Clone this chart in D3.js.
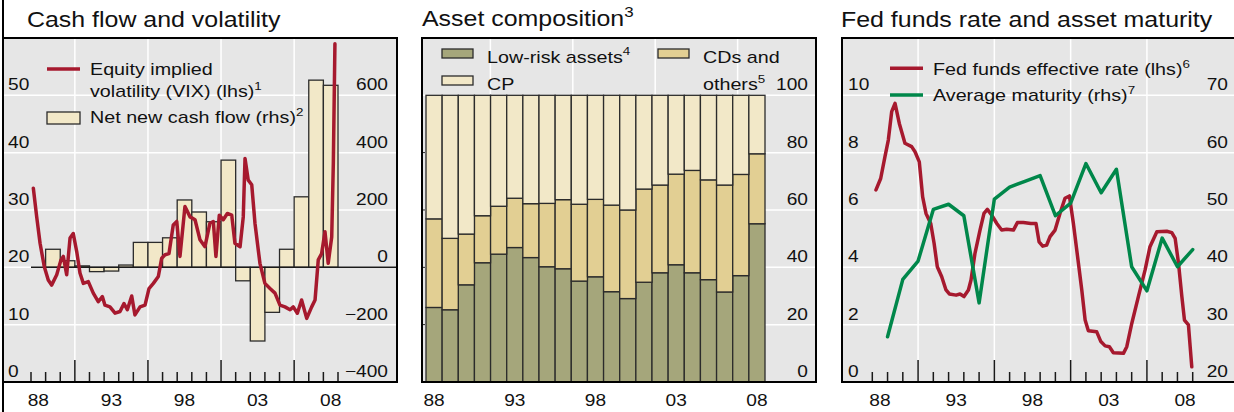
<!DOCTYPE html>
<html>
<head>
<meta charset="utf-8">
<script src="https://cdn.jsdelivr.net/npm/d3@7"></script>
<style>
  body { margin: 0; background: #fff; }
  svg { display: block; }
  text { font-family: Arial, "Liberation Sans", sans-serif; fill: #111; }
</style>
</head>
<body>
<svg id="chart" width="1234" height="412"></svg>
<script>
// ---- data ----
// left panel: net new cash flow (USD bn, rhs) and VIX (lhs)
var flowYears = d3.range(1989, 2009);
var netFlow = [63, 23, 5, -15, -13, 8, 87, 87, 103, 235, 193, 159, 374, -47, -257, -157, 63, 246, 653, 635];

var vixDate = [1988.16, 1988.39, 1988.62, 1988.91, 1989.18, 1989.41, 1989.76, 1990.05, 1990.21, 1990.44,
  1990.67, 1990.89, 1991.13, 1991.35, 1991.58, 1991.92, 1992.26, 1992.6, 1992.88, 1993.06,
  1993.4, 1993.75, 1994.09, 1994.36, 1994.59, 1994.89, 1995.11, 1995.46, 1995.8, 1996.07,
  1996.37, 1996.71, 1996.94, 1997.17, 1997.44, 1997.73, 1997.97, 1998.19, 1998.53, 1998.88,
  1999.22, 1999.56, 1999.9, 2000.24, 2000.47, 2000.65, 2000.88, 2001.15, 2001.43, 2001.73,
  2001.95, 2002.3, 2002.52, 2002.64, 2002.86, 2003.1, 2003.32, 2003.66, 2004.0, 2004.35,
  2004.69, 2005.03, 2005.37, 2005.72, 2005.94, 2006.22, 2006.51, 2006.86, 2007.2, 2007.43,
  2007.65, 2007.88, 2008.11, 2008.33, 2008.57, 2008.68, 2008.79];
var vixVal = [33.8, 28.8, 24.2, 20.1, 17.8, 16.9, 18.7, 21.3, 21.9, 18.7,
  25.1, 25.9, 22.7, 19.0, 17.2, 17.5, 15.5, 14.0, 14.9, 13.4,
  13.1, 12.0, 12.3, 13.7, 12.6, 15.0, 11.7, 13.1, 13.4, 16.3,
  17.2, 18.4, 21.6, 22.2, 22.4, 27.4, 28.0, 21.9, 30.6, 28.8,
  28.3, 24.8, 23.6, 27.7, 28.0, 21.9, 29.1, 28.3, 29.4, 29.1,
  24.2, 23.6, 28.8, 39.0, 35.2, 34.4, 27.7, 20.7, 17.2, 16.3,
  15.5, 13.4, 13.1, 12.6, 13.1, 12.0, 14.3, 11.1, 13.1, 14.3,
  21.3, 22.4, 26.2, 20.7, 25.3, 38.1, 59.0];

// middle panel: asset composition, per cent
var assetYears = d3.range(1988, 2009);
var lowRisk = [26, 25.2, 33.9, 41.6, 44.6, 46.9, 43.4, 40.2, 39.5, 35.2, 36.7, 31.5, 29.1, 34.8, 38.1, 40.9, 38.1, 35.7, 31.4, 37.1, 55.2];
var cdsOther = [30.9, 24.9, 17.7, 16.4, 16.7, 17.2, 18.8, 22.1, 24.1, 26.8, 27, 30.2, 30.9, 32.5, 30.6, 31.6, 35.7, 34.8, 37.3, 35.3, 24.4];
var cpShare = [43.1, 49.9, 48.4, 42, 38.7, 35.9, 37.8, 37.7, 36.4, 38, 36.3, 38.3, 40, 32.7, 31.3, 27.5, 26.2, 29.5, 31.3, 27.6, 20.4];

// right panel: fed funds rate (lhs) and average maturity in days (rhs)
var ffDate = [1988.24, 1988.55, 1988.83, 1989.05, 1989.27, 1989.49, 1989.77, 1990.14, 1990.58, 1990.8,
  1991.08, 1991.3, 1991.52, 1991.83, 1992.05, 1992.26, 1992.55, 1992.83, 1993.05, 1993.49,
  1993.75, 1994.01, 1994.3, 1994.47, 1994.73, 1995.06, 1995.32, 1995.54, 1995.83, 1996.16,
  1996.48, 1996.81, 1997.25, 1997.51, 1997.9, 1998.39, 1998.73, 1998.93, 1999.17, 1999.43,
  1999.65, 1999.98, 2000.3, 2000.63, 2000.92, 2001.18, 2001.51, 2001.73, 2001.95, 2002.16,
  2002.71, 2002.98, 2003.26, 2003.54, 2003.8, 2004.46, 2004.68, 2005.01, 2005.44, 2005.88,
  2006.2, 2006.65, 2007.3, 2007.63, 2007.85, 2008.07, 2008.29, 2008.46, 2008.72, 2008.94];
var ffRate = [6.70, 7.1, 7.86, 8.44, 9.43, 9.72, 9.02, 8.33, 8.21, 8.03,
  7.68, 6.46, 5.88, 5.53, 4.84, 4.02, 3.67, 3.21, 3.07, 3.03,
  3.07, 2.98, 3.21, 3.56, 4.49, 5.30, 5.88, 6.02, 5.82, 5.53,
  5.30, 5.33, 5.30, 5.56, 5.56, 5.53, 5.53, 4.89, 4.74, 4.78,
  5.07, 5.30, 5.88, 6.41, 6.49, 5.53, 4.14, 3.21, 2.16, 1.79,
  1.75, 1.41, 1.26, 1.23, 1.02, 1.0, 1.23, 2.05, 2.98, 3.91,
  4.72, 5.24, 5.26, 5.21, 5.01, 4.14, 2.98, 2.16, 1.99, 0.53];
// year-end observations
var maturityDate = d3.range(1989, 2010);
var maturityDays = [27.9, 37.9, 41.1, 50.1, 51, 49, 33.8, 51.9, 54, 55, 56, 49, 51.2, 58.1, 53, 57.1, 40.1, 35.9, 45.1, 40.1, 43.1];

var yearLabels = [1988, 1993, 1998, 2003, 2008];
var majorYears = [1991, 1996, 2001, 2006];

// ---- drawing ----
var svg = d3.select("#chart");
var SX = 1.16;  // glyphs in the original are wider than Arial
var red = "#a6192e", green = "#00874a", bg = "#e6e6e6";

function label(g, x, y, main, sup, anchor, size) {
  size = size || 16.5;
  var t = g.append("text")
      .attr("transform", "translate(" + x + "," + y + ") scale(" + SX + ",1)")
      .attr("text-anchor", anchor || "start")
      .style("font-size", size + "px");
  t.append("tspan").text(main);
  if (sup) t.append("tspan").attr("dy", -size * 0.42).style("font-size", (size * 0.68) + "px").text(sup);
  return t;
}
function fmt(v) { return v < 0 ? "\u2212" + (-v) : String(v); }

function hgrid(g, vals, y, x0, x1) {
  g.selectAll(null).data(vals).enter().append("line")
      .attr("x1", x0).attr("x2", x1)
      .attr("y1", y).attr("y2", y)
      .attr("stroke", "#fff").attr("stroke-width", 1.5);
}
function vgrid(g, vals, x, y0, y1) {
  g.selectAll(null).data(vals).enter().append("line")
      .attr("x1", x).attr("x2", x)
      .attr("y1", y0).attr("y2", y1)
      .attr("stroke", "#fff").attr("stroke-width", 1.5);
}
function yearTicks(g, x, bottom) {
  g.selectAll(null).data(d3.range(1988, 2010)).enter().append("line")
      .attr("x1", x).attr("x2", x)
      .attr("y1", bottom)
      .attr("y2", function(d) { return majorYears.indexOf(d) >= 0 ? bottom - 22 : bottom - 10; })
      .attr("stroke", "#1a1a1a").attr("stroke-width", 1.5);
  yearLabels.forEach(function(yr) {
    label(g, x(yr + 0.5), 406, String(yr).slice(2), null, "middle");
  });
}

// ===== panel 1: cash flow and volatility =====
var g1 = svg.append("g");
var b1 = {left: 3, right: 397, top: 38, bottom: 382};
var x1 = d3.scaleLinear().domain([1988, 2009]).range([31, 338]);
var y1 = d3.scaleLinear().domain([0, 60]).range([b1.bottom, b1.top]);
var y1r = d3.scaleLinear().domain([-400, 800]).range([b1.bottom, b1.top]);

g1.append("rect").attr("x", b1.left).attr("y", b1.top)
    .attr("width", b1.right - b1.left).attr("height", b1.bottom - b1.top).attr("fill", bg);
hgrid(g1, [10, 20, 30, 40, 50], function(d) { return y1(d); }, b1.left, b1.right);
vgrid(g1, majorYears, function(d) { return x1(d); }, b1.top, b1.bottom);

g1.selectAll(".flow").data(d3.zip(flowYears, netFlow)).enter().append("rect")
    .attr("class", "flow")
    .attr("x", function(d) { return x1(d[0]); })
    .attr("width", function(d) { return x1(d[0] + 1) - x1(d[0]); })
    .attr("y", function(d) { return y1r(Math.max(0, d[1])); })
    .attr("height", function(d) { return Math.abs(y1r(d[1]) - y1r(0)); })
    .attr("fill", "#f2e8c8").attr("stroke", "#2b2b2b").attr("stroke-width", 1.3);

g1.append("line").attr("x1", x1(1988)).attr("x2", b1.right)
    .attr("y1", y1r(0)).attr("y2", y1r(0)).attr("stroke", "#1a1a1a").attr("stroke-width", 1.5);

var vixLine = d3.line().x(function(d) { return x1(d[0]); }).y(function(d) { return y1(d[1]); });
g1.append("path").datum(d3.zip(vixDate, vixVal))
    .attr("fill", "none").attr("stroke", red).attr("stroke-width", 3.5)
    .attr("stroke-linejoin", "round").attr("stroke-linecap", "round")
    .attr("d", vixLine);

yearTicks(g1, x1, b1.bottom);

g1.append("rect").attr("x", b1.left).attr("y", b1.top)
    .attr("width", b1.right - b1.left).attr("height", b1.bottom - b1.top)
    .attr("fill", "none").attr("stroke", "#000").attr("stroke-width", 2);
g1.append("line").attr("x1", b1.left).attr("x2", b1.left).attr("y1", 0).attr("y2", 412)
    .attr("stroke", "#000").attr("stroke-width", 2);

[0, 10, 20, 30, 40, 50].forEach(function(v) { label(g1, 8, y1(v) - 5, fmt(v)); });
[-400, -200, 0, 200, 400, 600].forEach(function(v) { label(g1, 388, y1r(v) - 5, fmt(v), null, "end"); });

label(g1, 27, 27, "Cash flow and volatility", null, "start", 21.5);
g1.append("line").attr("x1", 47).attr("x2", 80).attr("y1", 69).attr("y2", 69)
    .attr("stroke", red).attr("stroke-width", 3.5);
label(g1, 90, 75, "Equity implied", null, "start", 17);
label(g1, 90, 97, "volatility (VIX) (lhs)", "1", "start", 17);
g1.append("rect").attr("x", 47).attr("y", 112).attr("width", 33).attr("height", 12)
    .attr("fill", "#f2e8c8").attr("stroke", "#2b2b2b").attr("stroke-width", 1.3);
label(g1, 90, 123, "Net new cash flow (rhs)", "2", "start", 17);

// ===== panel 2: asset composition =====
var g2 = svg.append("g");
var b2 = {left: 422, right: 816, top: 38, bottom: 382};
var xb = d3.scaleBand().domain(assetYears).range([426, 765]);
var y2 = d3.scaleLinear().domain([0, 100]).range([b2.bottom, 95.3]);
var gridX = d3.scaleLinear().domain([0, 5]).range([408, 820]);

g2.append("rect").attr("x", b2.left).attr("y", b2.top)
    .attr("width", b2.right - b2.left).attr("height", b2.bottom - b2.top).attr("fill", bg);
hgrid(g2, [20, 40, 60, 80, 100], function(d) { return y2(d); }, b2.left, b2.right);
vgrid(g2, [1, 2, 3, 4], function(d) { return gridX(d); }, b2.top, b2.bottom);

var assetRows = assetYears.map(function(yr, i) {
  return {year: yr, low: lowRisk[i], cds: cdsOther[i], cp: cpShare[i]};
});
var keys = ["low", "cds", "cp"];
var fills = {low: "#a5a67b", cds: "#e2cf93", cp: "#f2e8c8"};
var stacked = d3.stack().keys(keys)(assetRows);

g2.selectAll(".layer").data(stacked).enter().append("g")
    .attr("fill", function(d) { return fills[d.key]; })
  .selectAll("rect").data(function(d) { return d; }).enter().append("rect")
    .attr("x", function(d) { return xb(d.data.year); })
    .attr("width", xb.bandwidth())
    .attr("y", function(d) { return y2(d[1]); })
    .attr("height", function(d) { return y2(d[0]) - y2(d[1]); })
    .attr("stroke", "#2b2b2b").attr("stroke-width", 1.3);

g2.selectAll(".ltick").data([20, 40, 60, 80]).enter().append("line")
    .attr("x1", b2.left).attr("x2", b2.left + 3)
    .attr("y1", function(d) { return y2(d); }).attr("y2", function(d) { return y2(d); })
    .attr("stroke", "#1a1a1a").attr("stroke-width", 1);

g2.append("rect").attr("x", b2.left).attr("y", b2.top)
    .attr("width", b2.right - b2.left).attr("height", b2.bottom - b2.top)
    .attr("fill", "none").attr("stroke", "#000").attr("stroke-width", 2);

[0, 20, 40, 60, 80, 100].forEach(function(v) { label(g2, 808, y2(v) - 5, fmt(v), null, "end"); });
yearLabels.forEach(function(yr) {
  label(g2, xb(yr) + xb.bandwidth() / 2, 406, String(yr).slice(2), null, "middle");
});

label(g2, 422, 26, "Asset composition", "3", "start", 21.5);
g2.append("rect").attr("x", 442).attr("y", 49).attr("width", 31).attr("height", 9)
    .attr("fill", fills.low).attr("stroke", "#2b2b2b").attr("stroke-width", 1.3);
label(g2, 487, 62.5, "Low-risk assets", "4", "start", 17);
g2.append("rect").attr("x", 658).attr("y", 49).attr("width", 31).attr("height", 9)
    .attr("fill", fills.cds).attr("stroke", "#2b2b2b").attr("stroke-width", 1.3);
label(g2, 703, 62.5, "CDs and", null, "start", 17);
label(g2, 703, 90, "others", "5", "start", 17);
g2.append("rect").attr("x", 442).attr("y", 76).attr("width", 31).attr("height", 9)
    .attr("fill", fills.cp).attr("stroke", "#2b2b2b").attr("stroke-width", 1.3);
label(g2, 487, 90, "CP", null, "start", 17);

// ===== panel 3: fed funds rate and asset maturity =====
var g3 = svg.append("g");
var b3 = {left: 842, right: 1240, top: 38, bottom: 382};
var x3 = d3.scaleLinear().domain([1988, 2009]).range([872.3, 1192.7]);
var y3 = d3.scaleLinear().domain([0, 12]).range([b3.bottom, b3.top]);
var y3r = d3.scaleLinear().domain([20, 80]).range([b3.bottom, b3.top]);

g3.append("rect").attr("x", b3.left).attr("y", b3.top)
    .attr("width", b3.right - b3.left).attr("height", b3.bottom - b3.top).attr("fill", bg);
hgrid(g3, [2, 4, 6, 8, 10], function(d) { return y3(d); }, b3.left, b3.right);
vgrid(g3, majorYears, function(d) { return x3(d); }, b3.top, b3.bottom);

var ffLine = d3.line().x(function(d) { return x3(d[0]); }).y(function(d) { return y3(d[1]); });
var matLine = d3.line().x(function(d) { return x3(d[0]); }).y(function(d) { return y3r(d[1]); });

g3.append("path").datum(d3.zip(ffDate, ffRate))
    .attr("fill", "none").attr("stroke", red).attr("stroke-width", 3.5)
    .attr("stroke-linejoin", "round").attr("stroke-linecap", "round")
    .attr("d", ffLine);
g3.append("path").datum(d3.zip(maturityDate, maturityDays))
    .attr("fill", "none").attr("stroke", green).attr("stroke-width", 3.5)
    .attr("stroke-linejoin", "round").attr("stroke-linecap", "round")
    .attr("d", matLine);

yearTicks(g3, x3, b3.bottom);

g3.append("rect").attr("x", b3.left).attr("y", b3.top)
    .attr("width", b3.right - b3.left).attr("height", b3.bottom - b3.top)
    .attr("fill", "none").attr("stroke", "#000").attr("stroke-width", 2);

[0, 2, 4, 6, 8, 10].forEach(function(v) { label(g3, 848, y3(v) - 5, fmt(v)); });
[20, 30, 40, 50, 60, 70].forEach(function(v) { label(g3, 1228, y3r(v) - 5, fmt(v), null, "end"); });

label(g3, 841, 27, "Fed funds rate and asset maturity", null, "start", 21.5);
g3.append("line").attr("x1", 890).attr("x2", 923).attr("y1", 68.3).attr("y2", 68.3)
    .attr("stroke", red).attr("stroke-width", 3.5);
label(g3, 933, 75, "Fed funds effective rate (lhs)", "6", "start", 17);
g3.append("line").attr("x1", 890).attr("x2", 923).attr("y1", 95).attr("y2", 95)
    .attr("stroke", green).attr("stroke-width", 3.5);
label(g3, 933, 101, "Average maturity (rhs)", "7", "start", 17);
</script>
</body>
</html>
